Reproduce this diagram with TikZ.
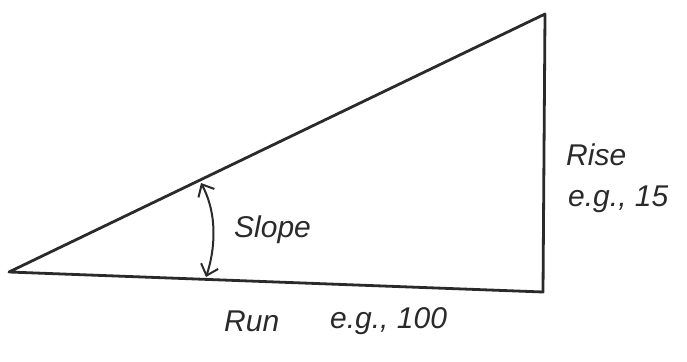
\documentclass[tikz,border=0pt]{standalone}
\usepackage{fontspec}
\setmainfont{Liberation Sans}
\usetikzlibrary{arrows.meta}
\definecolor{ink}{HTML}{2A2A2A}
\tikzset{
  edge/.style={draw=ink, line width=2.8pt, line cap=round, line join=round},
  lbl/.style={text=ink, font=\fontsize{30}{34}\selectfont\itshape, inner sep=0pt, anchor=west},
  arr/.style={draw=ink, line width=2pt, {Straight Barb[length=10pt,width=18pt]}-{Straight Barb[length=10pt,width=18pt]}}
}
\begin{document}
\begin{tikzpicture}[x=1pt,y=-1pt]
\useasboundingbox (0,0) rectangle (687,361);
\coordinate (A) at (9,272);
\coordinate (B) at (545,14);
\coordinate (C) at (543,292);
\draw[edge] (A) -- (B) -- (C) -- cycle;
\coordinate (T) at (201,183);
\coordinate (S) at (206,277);
\draw[arr] (T) .. controls (218,215) and (215,250) .. (S);
\node[lbl] (slope) at (234,230) {Slope};
\node[lbl] (rise) at (566,155) {Rise};
\node[lbl] (riseeg) at (568,199) {e.g., 15};
\node[lbl] (run) at (224,321) {Run};
\node[lbl] (runeg) at (330,321) {e.g., 100};
\end{tikzpicture}
\end{document}
